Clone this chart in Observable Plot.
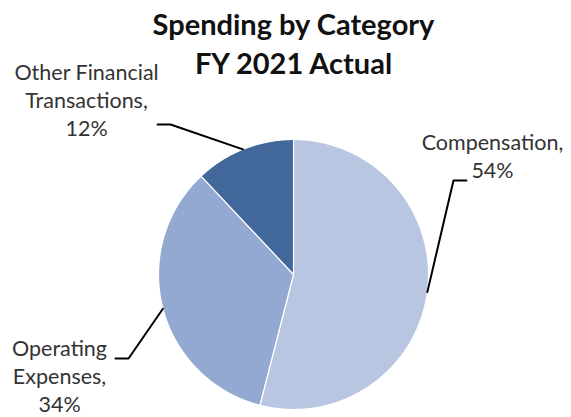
<!DOCTYPE html>
<html><head><meta charset="utf-8">
<script src="https://cdn.jsdelivr.net/npm/d3@7"></script>
<script src="https://cdn.jsdelivr.net/npm/@observablehq/plot@0.6"></script>
<style>body{margin:0;background:#fff}</style>
</head><body><div id="chart"></div>
<script>
// ---- data ----
const categories = ["Compensation", "Operating Expenses", "Other Financial Transactions"];
const shares = [54, 34, 12];
const labelNames = ["Compensation,", "Operating\nExpenses,", "Other Financial\nTransactions,"];
const colors = ["#b9c6e1", "#94a9d1", "#41679b"];
const titleLines = ["Spending by Category", "FY 2021 Actual"];

// ---- layout (radius units) ----
const W = 571, H = 417, cx = 293, cy = 274, R = 135;
const xDomain = [-cx / R, (W - cx) / R];
const yDomain = [-(H - cy) / R, cy / R];
const labelLayout = [
  {startDeg: 97.5, elbow: [1.185, 0.696], end: [1.281, 0.696], text: [1.474, 1.067]},
  {startDeg: 255.3, elbow: [-1.222, -0.622], end: [-1.319, -0.622], text: [-1.733, -0.455]},
  {startDeg: 338, elbow: [-0.911, 1.111], end: [-1.007, 1.111], text: [-1.533, 1.585]}
];
const titleLayout = [{y: 1.93}, {y: 1.64}];

const total = d3.sum(shares);
let acc = 0;
const slices = categories.map((c, i) => {
  const a0 = acc / total * 2 * Math.PI; acc += shares[i];
  const a1 = acc / total * 2 * Math.PI;
  return {c, i, a0, a1};
});
const slicePts = slices.flatMap(s => {
  const n = Math.max(2, Math.ceil((s.a1 - s.a0) / (Math.PI / 180)));
  const pts = [{c: s.c, x: 0, y: 0}];
  for (let k = 0; k <= n; k++) {
    const a = s.a0 + (s.a1 - s.a0) * k / n;
    pts.push({c: s.c, x: Math.sin(a), y: Math.cos(a)});
  }
  pts.push({c: s.c, x: 0, y: 0});
  return pts;
});
const leaderPts = categories.flatMap((c, i) => {
  const L = labelLayout[i], a = L.startDeg * Math.PI / 180;
  return [
    {c, x: Math.sin(a), y: Math.cos(a)},
    {c, x: L.elbow[0], y: L.elbow[1]},
    {c, x: L.end[0], y: L.end[1]}
  ];
});
const labels = categories.map((c, i) => ({
  c, x: labelLayout[i].text[0], y: labelLayout[i].text[1],
  text: `${labelNames[i]}\n${shares[i]}%`
}));
const titles = titleLines.map((t, i) => ({text: t, x: 0, y: titleLayout[i].y}));

const chart = Plot.plot({
  width: W, height: H, margin: 0,
  x: {domain: xDomain, axis: null},
  y: {domain: yDomain, axis: null},
  color: {domain: categories, range: colors},
  style: {fontFamily: "Lato, sans-serif", background: "#fff"},
  marks: [
    Plot.line(slicePts, {x: "x", y: "y", z: "c", fill: "c", stroke: "white", strokeWidth: 1.2, curve: "linear"}),
    Plot.line(leaderPts, {x: "x", y: "y", z: "c", stroke: "black", strokeWidth: 2, curve: "linear"}),
    Plot.text(labels, {x: "x", y: "y", text: "text", lineAnchor: "top", lineHeight: 1.3, fontSize: 21.5, fill: "#333"}),
    Plot.text(titles, {x: "x", y: "y", text: "text", lineAnchor: "top", fontSize: 29, fontWeight: "bold", fill: "#111"})
  ]
});
document.getElementById("chart").append(chart);
</script>
</body></html>
